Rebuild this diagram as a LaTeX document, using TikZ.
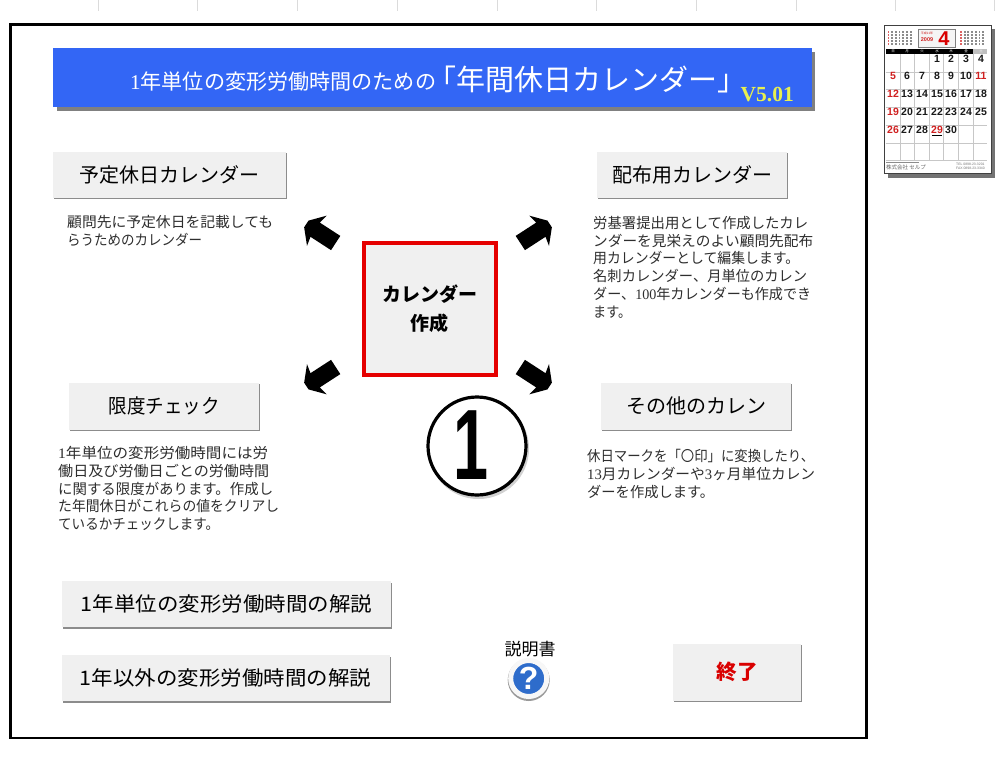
\documentclass[tikz,border=0pt]{standalone}
\usepackage{graphicx}
\usepackage{fontspec}
\setmainfont{Noto Sans CJK JP}
\newfontfamily\serifdigits{Liberation Serif}
\newfontfamily\arialfont{Liberation Sans}
\usetikzlibrary{shadows}
\definecolor{btnfill}{HTML}{F0F0F0}
\definecolor{btnedge}{HTML}{8C8C8C}
\definecolor{banner}{HTML}{3366F5}
\definecolor{calred}{HTML}{D02020}
\definecolor{bodytext}{HTML}{2E2E2E}
\definecolor{helpblue}{HTML}{2E6CCB}
\definecolor{verylw}{HTML}{E8F050}
\newcommand{\fs}[2]{\fontsize{#1}{#2}\selectfont}
\newcommand{\fitline}[2]{\resizebox{#1pt}{\height}{#2}}
\newcommand{\dg}[1]{{\serifdigits #1}}
\tikzset{
  x=1pt,y=-1pt,
  btn/.style={fill=btnfill,inner sep=0pt,outer sep=0pt,text=black,
     font=\fs{20}{24},general shadow={shadow xshift=1.3pt,shadow yshift=-1.5pt,fill=btnedge}},
  para/.style={anchor=north west,inner sep=0pt,align=left,text=bodytext,font=\fs{14.5}{17.8}},
  tick/.style={draw=black!14,line width=0.8pt},
  blockarrow/.pic={\fill[black] (-17.5,-8.5)--(7,-8.5)--(5,-18)--(17.5,-4)--(17.5,4)--(5,18)--(7,8.5)--(-17.5,8.5)--cycle;},
  calnum/.style={inner sep=0pt,font=\arialfont\bfseries\fs{10.5}{12},text=black!90},
  calred/.style={calnum,text=calred},
  calline/.style={draw=black!22,line width=0.5pt},
  dayhead/.style={inner sep=0pt,text=white,font=\fs{3.5}{4}},
}
\begin{document}
\begin{tikzpicture}
\useasboundingbox (0,0) rectangle (1004,768);
\fill[white] (0,0) rectangle (1004,768);
% ruler ticks
\foreach \tx in {98,197,297,397,497,596,696,796,895,994}
  \draw[tick] (\tx,0) -- (\tx,11);
% frame
\draw[black,line width=2.3pt] (10.5,24.5) rectangle (866.5,738);
% banner
\fill[black!50] (57,52) rectangle (815,111);
\fill[banner] (53,48) rectangle (812,107);
\node[inner sep=0pt,anchor=west,text=white,font=\fs{21}{24}] (title1) at (130,82) {\fitline{306}{\dg{1}年単位の変形労働時間のための}};
\node[inner sep=0pt,anchor=west,text=white,font=\fs{29}{32}] (title2) at (427,79) {「年間休日カレンダー\makebox[0.5em][l]{」}};
\node[inner sep=0pt,anchor=west,text=verylw,font=\serifdigits\bfseries\fs{21.5}{24}] (ver) at (740.5,95) {V5.01};
% buttons
\node[btn,minimum width=233pt,minimum height=46pt] (yotei) at (169.5,174.5) {予定休日カレンダー};
\node[btn,minimum width=190pt,minimum height=46pt] (haifu) at (692,174.5) {配布用カレンダー};
\node[btn,minimum width=190pt,minimum height=47pt] (gendo) at (164,406) {\fitline{111}{限度チェック}};
\node[btn,minimum width=190pt,minimum height=47pt] (sonota) at (696,406) {その他のカレン};
\node[btn,minimum width=329pt,minimum height=46pt] (kai1) at (226.5,604) {\fitline{291}{1年単位の変形労働時間の解説}};
\node[btn,minimum width=328pt,minimum height=46pt] (kai2) at (225.5,678) {\fitline{291}{1年以外の変形労働時間の解説}};
\node[btn,minimum width=128pt,minimum height=57pt,text=red!85!black,font=\bfseries\fs{20.5}{24}] (owari) at (737,672) {終了};
% centre button
\node[fill=btnfill,draw=red!90!black,line width=4pt,minimum width=132pt,minimum height=132pt,inner sep=0pt,align=center,
      font=\bfseries\fs{19}{29}] (center) at (429.5,308.5) {カレンダー\\作成};
% descriptions
\node[para] (d1) at (67,215.5) {\fitline{206}{顧問先に予定休日を記載しても}\\\fitline{135}{らうためのカレンダー}};
\node[para] (d2) at (593,216) {\fitline{215}{労基署提出用として作成したカレ}\\\fitline{220}{ンダーを見栄えのよい顧問先配布}\\\fitline{206}{用カレンダーとして編集します。}\\\fitline{214}{名刺カレンダー、月単位のカレン}\\\fitline{218}{ダー、\dg{100}年カレンダーも作成でき}\\\fitline{38}{ます。}};
\node[para] (d3) at (58,446) {\fitline{210}{\dg{1}年単位の変形労働時間には労}\\\fitline{211}{働日及び労働日ごとの労働時間}\\\fitline{215}{に関する限度があります。作成し}\\\fitline{221}{た年間休日がこれらの値をクリアし}\\\fitline{161}{ているかチェックします。}};
\node[para] (d4) at (587,449) {\fitline{227}{休日マークを「〇印」に変換したり、}\\\fitline{228}{\dg{13}月カレンダーや\dg{3}ヶ月単位カレン}\\\fitline{127}{ダーを作成します。}};
% block arrows
\pic (atl) [rotate=147] at (321,233.5) {blockarrow};
\pic (atr) [rotate=33] at (535,233.5) {blockarrow};
\pic (abl) [rotate=213] at (321,376.5) {blockarrow};
\pic (abr) [rotate=-33] at (535,376.5) {blockarrow};
% circled one
\draw[black!18,line width=4pt] (478.5,448.5) circle[radius=48.5];
\node[circle,draw=black,fill=white,line width=3.2pt,minimum size=98pt,inner sep=0pt] (one) at (477,446) {};
\node[inner sep=0pt,font=\arialfont\bfseries\fs{100}{100},text=black] (onedigit) at (471,445) {\fitline{35}{1}};
% help
\node[inner sep=0pt,text=black,font=\fs{17}{20}] (setsu) at (530,649) {説明書};
\fill[black!40] (528.7,680) circle[radius=21];
\node[circle,fill=helpblue,draw=black!3,line width=5pt,minimum size=36pt,inner sep=0pt,
      text=white,font=\arialfont\bfseries\fs{32}{34}] (help) at (528.7,678.5) {?};
% calendar thumbnail
\fill[black!55] (888,29) rectangle (995,177.5);
\draw[black!75,fill=white,line width=0.7pt] (884,25) rectangle (991,173);
\fill[calred] (885.5,49) rectangle (900,54);
\fill[black] (900,49) rectangle (973,54);
\fill[black!25] (973,49) rectangle (987,54);
\foreach \lx in {900,914,929,943,958,973} \draw[calline] (\lx,54) -- (\lx,160);
\foreach \ly in {72,89,107,125,143,160} \draw[calline] (885.5,\ly) -- (987,\ly);
\foreach \cx/\ct in {893/日,907/月,922/火,937/水,951/木,966/金,981/土}
  \node[dayhead] at (\cx,51.5) {\ct};
% month box
\draw[black!50,fill=black!4,line width=0.8pt] (918,29.5) rectangle (955,47);
\node[inner sep=0pt,text=calred,font=\fs{3}{4}] at (927,33.5) {平成21年};
\node[inner sep=0pt,text=calred,font=\arialfont\bfseries\fs{5.5}{6}] at (927,39.5) {2009};
\node[inner sep=0pt,text=red!85!black,font=\arialfont\bfseries\fs{20}{22}] at (944,39) {4};
% mini calendars
\foreach \ox in {887.5,960}{
  \foreach \i in {0,...,6}{
    \foreach \j in {0,...,4}{
      \pgfmathsetmacro{\px}{\ox+\i*3.7}
      \pgfmathsetmacro{\py}{31+\j*3}
      \ifnum\i=0 \fill[calred!70] (\px,\py) rectangle ++(1.8,1.6);
      \else \fill[black!45] (\px,\py) rectangle ++(1.8,1.6); \fi
    }
  }
}
% days
\foreach \cx/\cy/\d in {937/58.5/1,951/58.5/2,966/58.5/3,981/58.5/4,
  907/76/6,922/76/7,937/76/8,951/76/9,966/76/10,
  907/94/13,922/94/14,937/94/15,951/94/16,966/94/17,981/94/18,
  907/112/20,922/112/21,937/112/22,951/112/23,966/112/24,981/112/25,
  907/129.5/27,922/129.5/28,951/129.5/30}
  \node[calnum] at (\cx,\cy) {\d};
\foreach \cx/\cy/\d in {893/76/5,981/76/11,893/94/12,893/112/19,893/129.5/26,937/129.5/29}
  \node[calred] at (\cx,\cy) {\d};
\fill[calred] (932,135) rectangle (942,136);
% foot
\fill[black!45] (886,161.5) rectangle (919,162.5);
\node[inner sep=0pt,anchor=west,text=black!60,font=\fs{5.5}{6}] at (886,167.5) {株式会社 セルプ};
\node[inner sep=0pt,anchor=west,text=black!55,font=\arialfont\fs{3.4}{4}] at (956,164) {TEL 0898-23-3201};
\node[inner sep=0pt,anchor=west,text=black!55,font=\arialfont\fs{3.4}{4}] at (956,168) {FAX 0898-23-3340};
\end{tikzpicture}
\end{document}
